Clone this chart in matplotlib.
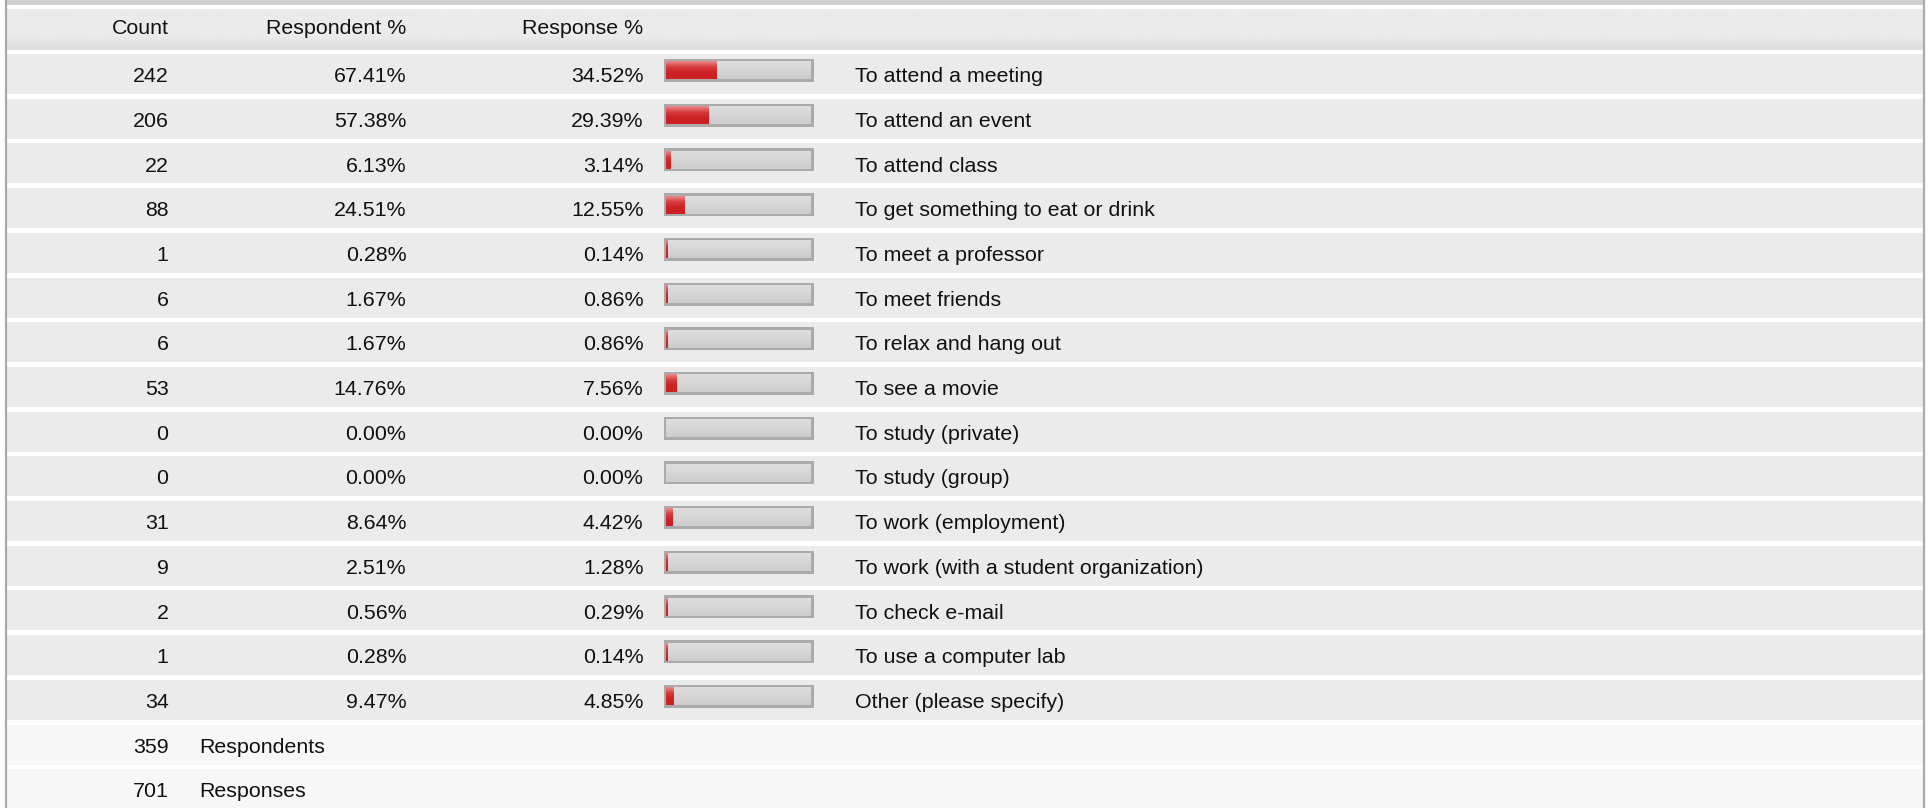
import matplotlib
matplotlib.use("Agg")
import matplotlib.pyplot as plt
import numpy as np
from matplotlib.patches import Rectangle
from matplotlib.colors import LinearSegmentedColormap

# data
labels = ["To attend a meeting", "To attend an event", "To attend class",
          "To get something to eat or drink", "To meet a professor", "To meet friends",
          "To relax and hang out", "To see a movie", "To study (private)",
          "To study (group)", "To work (employment)", "To work (with a student organization)",
          "To check e-mail", "To use a computer lab", "Other (please specify)"]
counts = [242, 206, 22, 88, 1, 6, 6, 53, 0, 0, 31, 9, 2, 1, 34]
respondent_pct = [67.41, 57.38, 6.13, 24.51, 0.28, 1.67, 1.67, 14.76, 0.00, 0.00,
                  8.64, 2.51, 0.56, 0.28, 9.47]
response_pct = [34.52, 29.39, 3.14, 12.55, 0.14, 0.86, 0.86, 7.56, 0.00, 0.00,
                4.42, 1.28, 0.29, 0.14, 4.85]
headers = ["Count", "Respondent %", "Response %"]
footer_counts = [359, 701]
footer_labels = ["Respondents", "Responses"]

W, H = 1931, 808
plt.rcParams["font.family"] = ["Liberation Sans", "DejaVu Sans"]
FS = 15.4
TC = "#111111"

fig = plt.figure(figsize=(W / 100, H / 100), dpi=100)
ax = fig.add_axes([0, 0, 1, 1])
ax.set_xlim(0, W)
ax.set_ylim(H, 0)
ax.axis("off")

# layout
x_left, x_right = 7, 1923
row0, pitch, row_h = 54, 44.7, 40
base_off = 28.2
col_count, col_resp, col_pct = 168.5, 406.5, 643.5
bar_x0, bar_w, bar_h, bar_off = 664, 150, 23, 5
lab_x = 855

red_cmap = LinearSegmentedColormap.from_list("r", ["#ea8a8b", "#d63a3c", "#cc2022", "#cc2022"])
gray_cmap = LinearSegmentedColormap.from_list("g", ["#dedede", "#d6d6d6", "#cccccc"])
head_cmap = LinearSegmentedColormap.from_list("h", ["#ebebeb", "#ebebeb", "#ebebeb", "#dcdcdc"])
grad = np.linspace(0, 1, 64).reshape(-1, 1)

# frame
ax.add_patch(Rectangle((x_left, 0), 1924 - x_left, 5, color="#d0d0d0", lw=0))
ax.plot([6.5, 6.5], [0, H], color="#aaaaaa", lw=1.6)
ax.plot([1924.5, 1924.5], [0, H], color="#aaaaaa", lw=1.6)

# header
ax.imshow(grad, cmap=head_cmap, aspect="auto", extent=(x_left, x_right, 50, 9), zorder=1)
for hx, h in zip([col_count, col_resp, col_pct], headers):
    ax.text(hx, 34.5, h, ha="right", va="baseline", fontsize=FS, color=TC)

# data rows
for i in range(len(labels)):
    top = row0 + i * pitch
    yb = top + base_off
    ax.add_patch(Rectangle((x_left, top), x_right - x_left, row_h, color="#ebebeb", lw=0, zorder=0))
    ax.text(col_count, yb, str(counts[i]), ha="right", va="baseline", fontsize=FS, color=TC)
    ax.text(col_resp, yb, f"{respondent_pct[i]:.2f}%", ha="right", va="baseline", fontsize=FS, color=TC)
    ax.text(col_pct, yb, f"{response_pct[i]:.2f}%", ha="right", va="baseline", fontsize=FS, color=TC)
    ax.text(lab_x, yb, labels[i], ha="left", va="baseline", fontsize=FS, color=TC)
    # bar
    bt = top + bar_off
    ax.add_patch(Rectangle((bar_x0, bt), bar_w, bar_h, facecolor="#aaaaaa", lw=0, zorder=2))
    ix0, iw = bar_x0 + 2.5, bar_w - 5
    ax.imshow(grad, cmap=gray_cmap, aspect="auto",
              extent=(ix0, ix0 + iw, bt + bar_h - 2.5, bt + 2.5), zorder=3)
    fill = iw * response_pct[i] / 100
    if response_pct[i] > 0:
        fill = max(fill, 1.5)
        ax.imshow(grad, cmap=red_cmap, aspect="auto",
                  extent=(ix0, ix0 + fill, bt + bar_h - 2.5, bt + 2.5), zorder=4)

# footer rows
for j in range(len(footer_counts)):
    top = row0 + (len(labels) + j) * pitch
    yb = top + base_off
    ax.add_patch(Rectangle((x_left, top), x_right - x_left, row_h, color="#f7f7f7", lw=0, zorder=0))
    ax.text(col_count, yb, str(footer_counts[j]), ha="right", va="baseline", fontsize=FS, color=TC)
    ax.text(199, yb, footer_labels[j], ha="left", va="baseline", fontsize=FS, color=TC)

ax.set_xlim(0, W)
ax.set_ylim(H, 0)
fig.savefig("out.png", dpi=100)
